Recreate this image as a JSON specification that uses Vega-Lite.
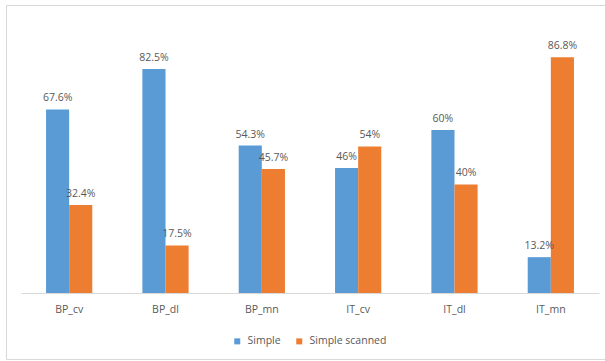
{
  "$schema": "https://vega.github.io/schema/vega-lite/v6.json",
  "width": 600,
  "height": 354,
  "autosize": "none",
  "padding": {"left": 6, "top": 5, "right": 0, "bottom": 2},
  "background": "#ffffff",
  "config": {
    "view": {"stroke": "#d9d9d9", "strokeWidth": 1},
    "font": "Open Sans"
  },
  "data": {
    "values": [
      {"dataset": "BP_cv", "mode": "Simple", "share": 0.676},
      {"dataset": "BP_cv", "mode": "Simple scanned", "share": 0.324},
      {"dataset": "BP_dl", "mode": "Simple", "share": 0.825},
      {"dataset": "BP_dl", "mode": "Simple scanned", "share": 0.175},
      {"dataset": "BP_mn", "mode": "Simple", "share": 0.543},
      {"dataset": "BP_mn", "mode": "Simple scanned", "share": 0.457},
      {"dataset": "IT_cv", "mode": "Simple", "share": 0.46},
      {"dataset": "IT_cv", "mode": "Simple scanned", "share": 0.54},
      {"dataset": "IT_dl", "mode": "Simple", "share": 0.60},
      {"dataset": "IT_dl", "mode": "Simple scanned", "share": 0.40},
      {"dataset": "IT_mn", "mode": "Simple", "share": 0.132},
      {"dataset": "IT_mn", "mode": "Simple scanned", "share": 0.868}
    ]
  },
  "encoding": {
    "x": {
      "field": "dataset",
      "type": "nominal",
      "sort": null,
      "scale": {"range": [15, 593], "paddingInner": 0.52, "paddingOuter": 0.26},
      "axis": {
        "title": null,
        "labelAngle": 0,
        "ticks": false,
        "offset": -66,
        "domainColor": "#d9d9d9",
        "domainWidth": 1,
        "labelColor": "#595959",
        "labelFontSize": 10.5,
        "labelPadding": 11
      }
    },
    "xOffset": {
      "field": "mode",
      "type": "nominal",
      "scale": {"paddingInner": 0, "paddingOuter": 0}
    },
    "y": {
      "field": "share",
      "type": "quantitative",
      "scale": {"domain": [0, 1], "range": [288, 16.5], "nice": false},
      "axis": null
    }
  },
  "layer": [
    {
      "mark": {"type": "bar"},
      "encoding": {
        "color": {
          "field": "mode",
          "type": "nominal",
          "scale": {"domain": ["Simple", "Simple scanned"], "range": ["#5b9bd5", "#ed7d31"]},
          "legend": {
            "title": null,
            "orient": "none",
            "direction": "horizontal",
            "legendX": 226,
            "legendY": 331,
            "symbolType": "square",
            "symbolSize": 36,
            "symbolStrokeWidth": 0,
            "labelFontSize": 10.5,
            "labelColor": "#595959",
            "labelOffset": 5,
            "columnPadding": 13
          }
        }
      }
    },
    {
      "mark": {"type": "text", "baseline": "alphabetic", "dy": -8, "fontSize": 10.5, "color": "#595959"},
      "encoding": {
        "text": {"field": "share", "type": "quantitative", "format": ".1~%"}
      }
    }
  ]
}
